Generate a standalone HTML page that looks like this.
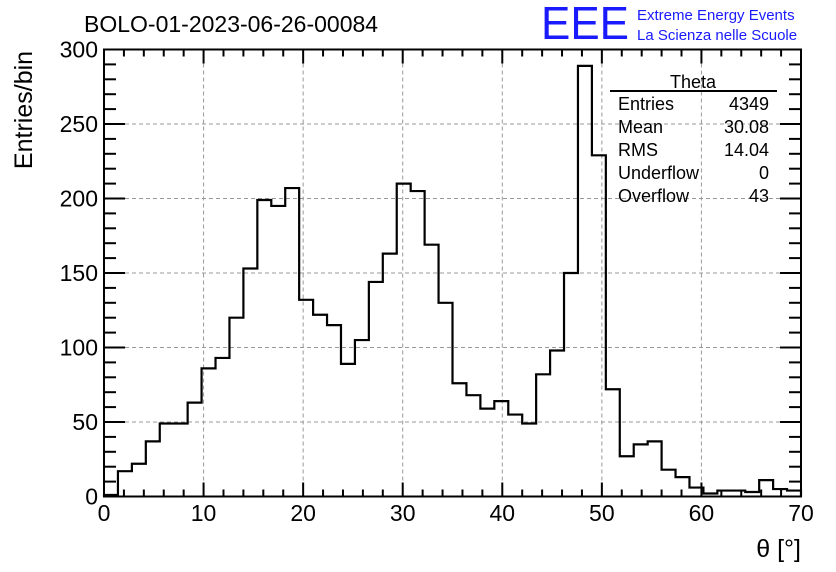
<!DOCTYPE html>
<html><head><meta charset="utf-8"><style>
body{margin:0;background:#fff}
svg{display:block;font-family:"Liberation Sans",sans-serif}
</style></head><body>
<svg id="c" width="836" height="572">
<text x="84" y="32" font-size="23">BOLO-01-2023-06-26-00084</text>
<text x="541" y="39" font-size="46" fill="#1a1aff" textLength="88" lengthAdjust="spacingAndGlyphs">EEE</text>
<text x="637" y="20" font-size="15" fill="#1a1aff">Extreme Energy Events</text>
<text x="637" y="40" font-size="15" fill="#1a1aff">La Scienza nelle Scuole</text>
<text transform="translate(32,110) rotate(-90)" text-anchor="middle" font-size="25">Entries/bin</text>
<text x="801" y="557" text-anchor="end" font-size="25">θ [°]</text>
<g id="grid"></g>
<g id="hist"></g>
<g id="axes"></g>
<g font-size="18">
<text x="693" y="88" text-anchor="middle">Theta</text>
<line x1="610" y1="91" x2="777" y2="91" stroke="#000" stroke-width="2"/>
<text x="618" y="110">Entries</text><text x="769" y="110" text-anchor="end">4349</text>
<text x="618" y="133">Mean</text><text x="769" y="133" text-anchor="end">30.08</text>
<text x="618" y="156">RMS</text><text x="769" y="156" text-anchor="end">14.04</text>
<text x="618" y="179">Underflow</text><text x="769" y="179" text-anchor="end">0</text>
<text x="618" y="202">Overflow</text><text x="769" y="202" text-anchor="end">43</text>
</g>
</svg>
<script>
const binEdgesStart = 0;
const binWidth = 1.4;
const counts = [1,17,22,37,49,49,63,86,93,120,153,199,195,207,132,122,115,89,105,144,163,210,205,169,130,76,68,59,64,55,49,82,98,150,289,229,72,27,35,37,18,13,6,2,4,4,3,11,5,4];
const xTicks = [0,10,20,30,40,50,60,70];
const yTicks = [0,50,100,150,200,250,300];
const L=104,R=801,B=496.5,T=49.5;
const xs=v=>L+(v-0)/(70-0)*(R-L);
const ys=v=>B-v/300*(B-T);
const NS="http://www.w3.org/2000/svg";
function mk(t,a,p){const e=document.createElementNS(NS,t);for(const k in a)e.setAttribute(k,a[k]);p.appendChild(e);return e;}
const grid=document.getElementById('grid'),axes=document.getElementById('axes'),hist=document.getElementById('hist');
xTicks.forEach(v=>{if(v>0&&v<70){const g=mk('line',{x1:xs(v),x2:xs(v),y1:T,y2:B,stroke:'#999','stroke-dasharray':'4,3','stroke-width':1},grid);

}});
yTicks.forEach(v=>{if(v>0&&v<300){const g=mk('line',{x1:L,x2:R,y1:ys(v),y2:ys(v),stroke:'#999','stroke-dasharray':'4,3','stroke-width':1},grid);

}});
let d='M'+xs(0)+','+B;
counts.forEach((c,i)=>{const x0=xs(binEdgesStart+i*binWidth),x1=xs(binEdgesStart+(i+1)*binWidth);d+=' L'+x0+','+ys(c)+' L'+x1+','+ys(c);});
d+=' L'+xs(70)+','+B;
const p=mk('path',{d:d,fill:'none',stroke:'#000','stroke-width':2.2},hist);


const fr=mk('rect',{x:L,y:T,width:R-L,height:B-T,fill:'none',stroke:'#000','stroke-width':2},axes);


for(let v=0;v<=70;v+=2){const maj=v%10===0,len=maj?14:7,x=xs(v);
mk('line',{x1:x,x2:x,y1:B,y2:B-len,stroke:'#000','stroke-width':2},axes);
mk('line',{x1:x,x2:x,y1:T,y2:T+len,stroke:'#000','stroke-width':2},axes);}
for(let v=0;v<=300;v+=10){const maj=v%50===0,len=maj?21:12,y=ys(v);
mk('line',{x1:L,x2:L+len,y1:y,y2:y,stroke:'#000','stroke-width':2},axes);
mk('line',{x1:R,x2:R-len,y1:y,y2:y,stroke:'#000','stroke-width':2},axes);}
xTicks.forEach(v=>{const t=mk('text',{x:xs(v),y:521,'text-anchor':'middle','font-size':23},axes);t.textContent=v;

});
yTicks.forEach(v=>{const t=mk('text',{x:98,y:ys(v)+8,'text-anchor':'end','font-size':23},axes);t.textContent=v;

});
</script>
</body></html>
